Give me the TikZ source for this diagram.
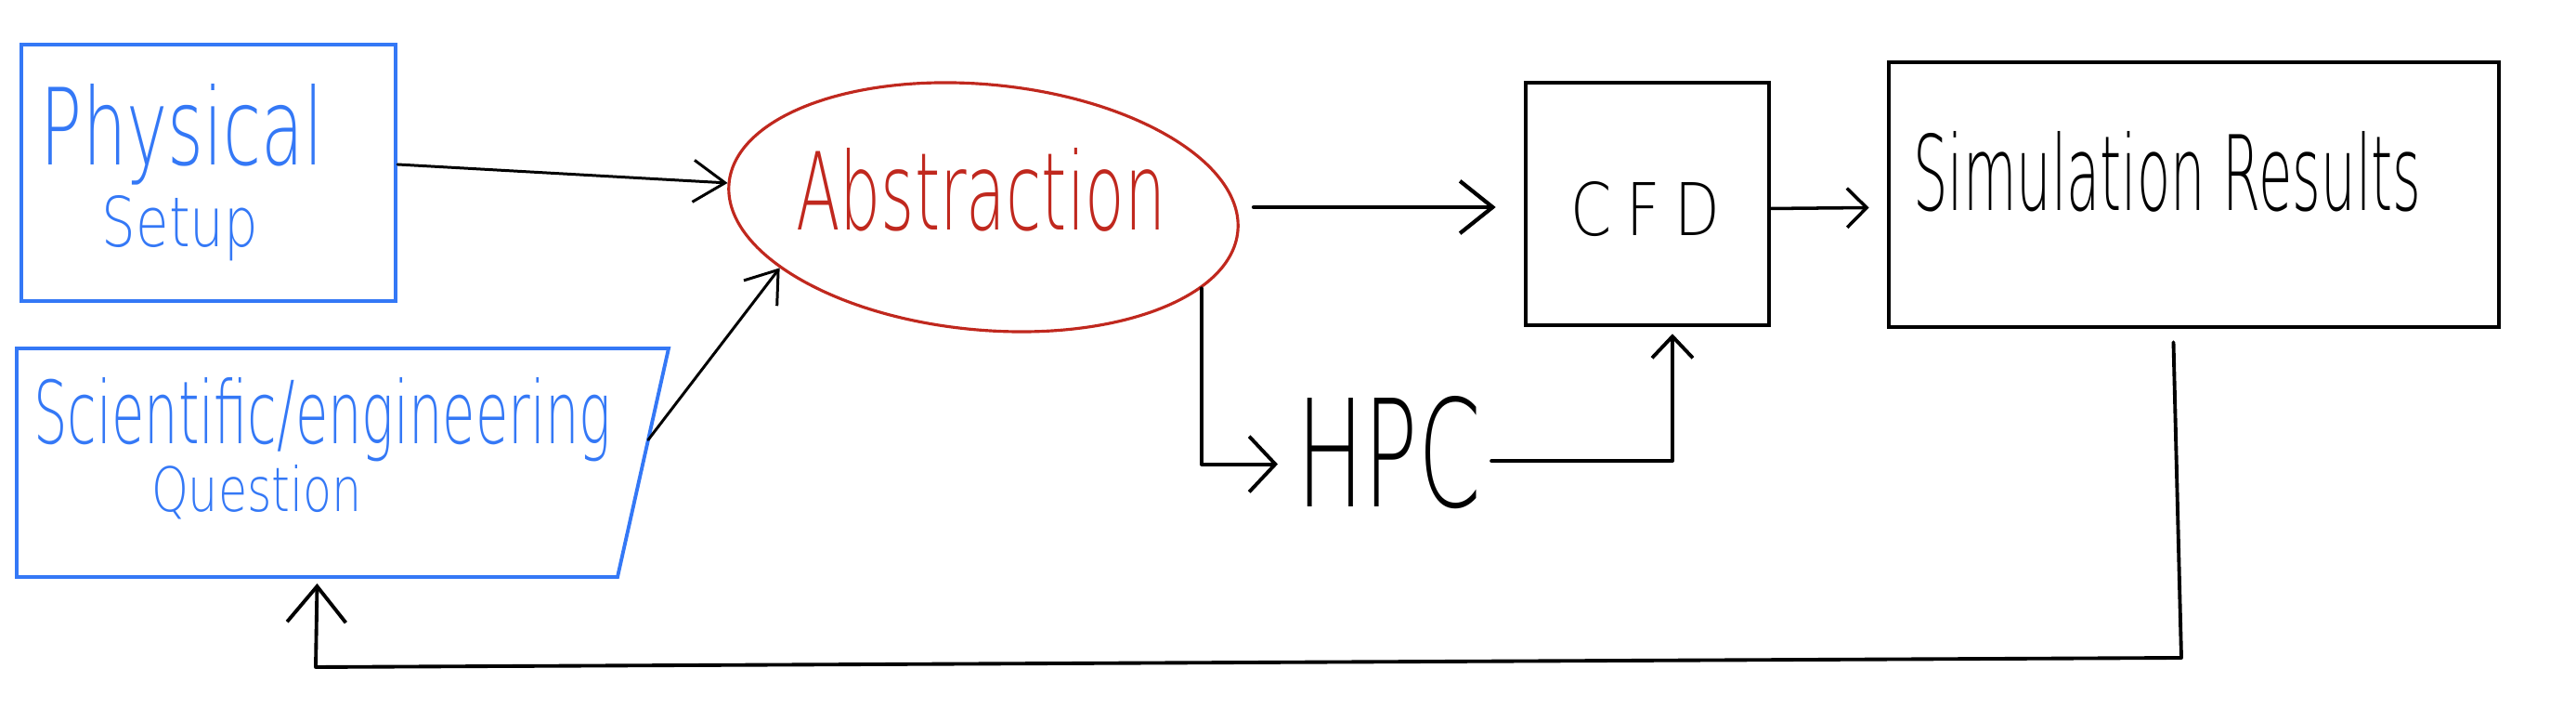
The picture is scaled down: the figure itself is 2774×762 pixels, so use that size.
\documentclass[tikz,border=0pt]{standalone}
\usepackage{fontspec}
\usepackage{graphicx}
\setmainfont{DejaVu Sans ExtraLight}
\usetikzlibrary{arrows.meta,shapes.geometric,calc}
\definecolor{hblue}{RGB}{52,120,246}
\definecolor{hred}{RGB}{192,40,30}
\newcommand{\hw}[3]{\resizebox{#1mm}{#2mm}{#3}}
\begin{document}
\begin{tikzpicture}[x=0.01cm,y=-0.01cm,
  txt/.style={inner sep=0pt, outer sep=0pt, anchor=base west},
  bbox/.style={draw=hblue, line width=1.1pt, rectangle, inner sep=0pt},
  kbox/.style={draw=black, line width=1.25pt, rectangle, inner sep=0pt},
  conn/.style={draw=black, line width=1.1pt, line cap=round, line join=round}]
\useasboundingbox (0,0) rectangle (2774,762);
% Physical setup
\node[bbox, minimum width=4.03cm, minimum height=2.76cm] (phys) at (224.5,186) {};
\node[txt, text=hblue] (physA) at (44,178) {\hw{30.4}{8.7}{Physical}};
\node[txt, text=hblue] (physB) at (110,266) {\hw{16.8}{5.5}{Setup}};
% Question
\coordinate (q1) at (18,375);
\coordinate (q2) at (720,375);
\coordinate (q3) at (665,621);
\coordinate (q4) at (18,621);
\draw[draw=hblue, line width=1.1pt] (q1) -- (q2) -- (q3) -- (q4) -- cycle;
\node[txt, text=hblue] (questA) at (36,478) {\hw{62.2}{7.1}{Scientific/engineering}};
\node[txt, text=hblue] (questB) at (163,551) {\hw{22.7}{5.0}{Question}};
% Abstraction
\node[ellipse, draw=hred, line width=0.9pt, minimum width=5.5cm, minimum height=2.64cm, rotate=-5.4, inner sep=0pt] (abs) at (1059,223) {};
\node[txt, text=hred] (absT) at (857,248) {\hw{39.8}{8.8}{Abstraction}};
% CFD
\node[kbox, minimum width=2.62cm, minimum height=2.61cm] (cfd) at (1774,219.5) {};
\node[txt] (cfdT) at (1691,254) {\hw{16.1}{5.8}{C\hspace{0.25em}F\hspace{0.25em}D}};
% Simulation results
\node[kbox, minimum width=6.57cm, minimum height=2.85cm] (sim) at (2362.5,209.5) {};
\node[txt] (simT) at (2060,227) {\hw{54.7}{8.5}{Simulation Results}};
% HPC
\node[txt] (hpc) at (1396,546) {\hw{19.9}{11.9}{HPC}};
% connectors
\draw[conn, line width=0.85pt, -{Straight Barb[length=9.7pt,width=12.8pt]}] ($(phys.east)+(0,-9)$) -- (abs.west);
\draw[conn, line width=0.85pt, -{Straight Barb[length=9pt,width=12.8pt]}] ($(q2)!0.4!(q3)$) -- (abs.202);
\draw[conn, line width=1.2pt, -{Straight Barb[length=10pt,width=16pt]}] ($(abs.center)+(291,0)$) -- ($(cfd.west)+(-30,3.5)$);
\draw[conn, -{Straight Barb[length=8pt,width=17pt]}] (abs.-15) |- ($(hpc.west)+(-20,12)$);
\draw[conn, -{Straight Barb[length=6.6pt,width=12.5pt]}] ($(hpc.east)+(11,8.5)$) -| ($(cfd.south)+(27,7)$);
\draw[conn, line width=1pt, -{Straight Barb[length=6pt,width=12pt]}] ($(cfd.east)+(-2,5)$) -- ($(sim.west)+(-19,14)$);
\coordinate (fb1) at (2349,708);
\coordinate (fb2) at (340,718);
\draw[conn, -{Straight Barb[length=11pt,width=18pt]}] ($(sim.south)+(-22,14)$) -- (fb1) -- (fb2) -- ($(q4)!0.5!(q3)+(0,7)$);
\end{tikzpicture}
\end{document}
